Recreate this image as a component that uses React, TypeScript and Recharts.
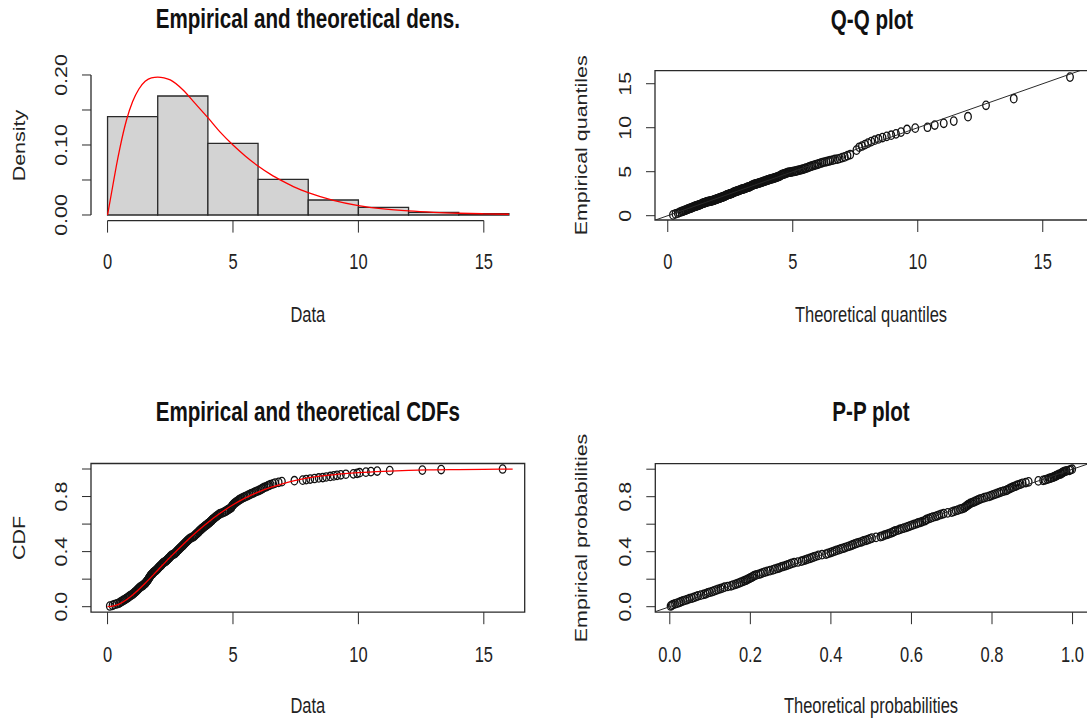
import React from "react";
import {
    ComposedChart, Line, Scatter, XAxis, YAxis, ReferenceArea, ReferenceLine,
} from "recharts";

// ---------- Style ----------

const FONT = "'Liberation Sans', Arial, sans-serif";
const INK = "#222";
const FRAME = "#2a2a2a";
const STRETCH = 1.3; // the picture is stretched vertically, text too

// ---------- Data ----------

// histogram (density scale)
const HIST_BREAKS = [0, 2, 4, 6, 8, 10, 12, 14, 16];
const HIST_DENSITY = [0.1404, 0.17, 0.1024, 0.051, 0.0214, 0.011, 0.0038, 0.002];

// fitted density curve
const DENS_X = [0, 0.1, 0.2, 0.35, 0.5, 0.75, 1, 1.25, 1.5, 1.75, 2, 2.25, 2.5, 3, 3.5, 4, 4.5, 5, 5.5, 6, 6.5, 7, 7.5, 8, 9, 10, 11, 12, 13, 14, 15, 16];
const DENS_Y = [0, 0.02, 0.04, 0.07, 0.097, 0.135, 0.162, 0.18, 0.191, 0.196, 0.197, 0.196, 0.193, 0.179, 0.159, 0.139, 0.118, 0.1, 0.084, 0.07, 0.058, 0.048, 0.039, 0.032, 0.021, 0.0135, 0.0088, 0.0058, 0.0038, 0.0025, 0.0017, 0.0011];

// fitted CDF curve
const CDF_X = [0, 0.25, 0.5, 0.75, 1, 1.5, 2, 2.5, 3, 3.5, 4, 4.5, 5, 5.5, 6, 6.5, 7, 7.5, 8, 9, 10, 11, 12, 13, 14, 15, 16.15];
const CDF_Y = [0, 0.006, 0.022, 0.05, 0.085, 0.17, 0.265, 0.36, 0.45, 0.535, 0.612, 0.68, 0.74, 0.79, 0.832, 0.866, 0.894, 0.917, 0.935, 0.958, 0.973, 0.983, 0.99, 0.994, 0.996, 0.998, 0.999];

// sample, first half of the dense part plus the sparse upper tail
const SAMPLE = [
    0.09, 0.28, 0.46, 0.55, 0.64, 0.74, 0.82, 0.89, 0.99, 1.06,
    1.12, 1.18, 1.24, 1.3, 1.39, 1.46, 1.52, 1.56, 1.61, 1.64,
    1.68, 1.71, 1.77, 1.82, 1.88, 1.95, 2.01, 2.06, 2.12, 2.17,
    2.23, 2.33, 2.38, 2.44, 2.49, 2.55, 2.66, 2.72, 2.77, 2.83,
    2.89, 2.95, 3.01, 3.06, 3.12, 3.18, 3.24, 3.31, 3.43, 3.49,
    3.55, 3.62, 3.66, 3.73, 3.8, 3.87, 3.94, 4.01, 4.08, 4.15,
    4.19, 4.27, 4.34, 4.42, 4.5, 4.66, 4.75, 4.84, 4.93, 4.96,
    5.0, 5.06, 5.14, 5.22, 5.3, 5.41, 5.54, 5.66, 5.78, 5.9,
    6.04, 6.15, 6.25, 6.39, 6.5, 6.68, 6.95,
    7.45, 7.78, 7.92, 8.08, 8.25, 8.42, 8.58, 8.72, 8.88, 9.02,
    9.15, 9.3, 9.5, 9.8, 9.95, 10.05, 10.3, 10.5, 10.75, 11.25,
    12.55, 13.3, 15.75,
];
const EMP_PROB = [
    0.005, 0.016, 0.026, 0.037, 0.047, 0.058, 0.068, 0.079, 0.089, 0.1,
    0.11, 0.121, 0.131, 0.142, 0.152, 0.163, 0.173, 0.184, 0.194, 0.205,
    0.215, 0.226, 0.236, 0.247, 0.257, 0.268, 0.278, 0.289, 0.299, 0.31,
    0.32, 0.331, 0.341, 0.352, 0.362, 0.373, 0.383, 0.394, 0.404, 0.415,
    0.425, 0.436, 0.446, 0.457, 0.467, 0.478, 0.488, 0.499, 0.509, 0.52,
    0.53, 0.541, 0.551, 0.562, 0.572, 0.583, 0.593, 0.604, 0.614, 0.625,
    0.635, 0.646, 0.656, 0.667, 0.677, 0.688, 0.698, 0.709, 0.719, 0.73,
    0.74, 0.751, 0.761, 0.772, 0.782, 0.793, 0.803, 0.814, 0.824, 0.835,
    0.845, 0.856, 0.866, 0.877, 0.887, 0.898, 0.908,
    0.915, 0.919, 0.923, 0.927, 0.931, 0.935, 0.938, 0.942, 0.946, 0.95,
    0.954, 0.958, 0.962, 0.965, 0.969, 0.973, 0.977, 0.981, 0.985, 0.988,
    0.992, 0.996, 1.0,
];
const THEO_QUANT = [
    0.21, 0.4, 0.54, 0.63, 0.72, 0.8, 0.88, 0.95, 1.02, 1.09,
    1.15, 1.21, 1.27, 1.33, 1.39, 1.46, 1.52, 1.57, 1.63, 1.68,
    1.74, 1.79, 1.85, 1.9, 1.96, 2.01, 2.07, 2.12, 2.18, 2.23,
    2.29, 2.35, 2.4, 2.46, 2.51, 2.57, 2.63, 2.69, 2.74, 2.8,
    2.86, 2.92, 2.98, 3.04, 3.1, 3.16, 3.22, 3.29, 3.35, 3.41,
    3.47, 3.54, 3.6, 3.67, 3.74, 3.81, 3.88, 3.95, 4.02, 4.09,
    4.17, 4.25, 4.32, 4.4, 4.48, 4.56, 4.65, 4.74, 4.83, 4.91,
    5.0, 5.11, 5.21, 5.32, 5.42, 5.53, 5.66, 5.78, 5.91, 6.04,
    6.19, 6.35, 6.5, 6.69, 6.88, 7.08, 7.3,
    7.55, 7.66, 7.77, 7.89, 8.01, 8.14, 8.28, 8.43, 8.59, 8.76,
    8.94, 9.13, 9.33, 9.57, 9.9, 10.39, 10.68, 11.04, 11.44, 12.01,
    12.73, 13.84, 16.09,
];
const THEO_PROB = [
    0.002, 0.008, 0.019, 0.028, 0.038, 0.049, 0.06, 0.07, 0.084, 0.094,
    0.105, 0.115, 0.126, 0.136, 0.152, 0.163, 0.173, 0.182, 0.19, 0.197,
    0.204, 0.21, 0.221, 0.231, 0.242, 0.256, 0.267, 0.277, 0.288, 0.298,
    0.309, 0.327, 0.337, 0.348, 0.358, 0.369, 0.388, 0.399, 0.409, 0.42,
    0.43, 0.441, 0.451, 0.46, 0.47, 0.481, 0.492, 0.502, 0.523, 0.533,
    0.543, 0.553, 0.56, 0.571, 0.581, 0.592, 0.602, 0.613, 0.622, 0.633,
    0.638, 0.648, 0.659, 0.669, 0.68, 0.7, 0.71, 0.721, 0.731, 0.736,
    0.74, 0.746, 0.754, 0.762, 0.77, 0.781, 0.793, 0.803, 0.813, 0.823,
    0.835, 0.842, 0.849, 0.858, 0.866, 0.876, 0.891,
    0.915, 0.927, 0.932, 0.937, 0.941, 0.945, 0.948, 0.952, 0.955, 0.958,
    0.96, 0.963, 0.966, 0.97, 0.972, 0.974, 0.976, 0.978, 0.981, 0.985,
    0.992, 0.995, 0.999,
];

// sample, second half of the dense part
const SAMPLE_2 = [
    0.2, 0.37, 0.5, 0.6, 0.69, 0.78, 0.86, 0.95, 1.03, 1.09,
    1.15, 1.21, 1.27, 1.35, 1.42, 1.49, 1.54, 1.59, 1.62, 1.66,
    1.7, 1.74, 1.8, 1.85, 1.92, 1.98, 2.03, 2.09, 2.15, 2.2,
    2.28, 2.36, 2.41, 2.47, 2.52, 2.6, 2.69, 2.75, 2.8, 2.86,
    2.92, 2.98, 3.03, 3.09, 3.15, 3.21, 3.27, 3.37, 3.46, 3.52,
    3.58, 3.64, 3.7, 3.76, 3.83, 3.9, 3.97, 4.05, 4.11, 4.17,
    4.23, 4.3, 4.38, 4.46, 4.58, 4.7, 4.79, 4.89, 4.94, 4.98,
    5.03, 5.1, 5.18, 5.26, 5.35, 5.47, 5.6, 5.72, 5.84, 5.97,
    6.1, 6.2, 6.32, 6.44, 6.6, 6.82,
];
const EMP_PROB_2 = [
    0.01, 0.021, 0.031, 0.042, 0.052, 0.063, 0.073, 0.084, 0.094, 0.105,
    0.115, 0.126, 0.136, 0.147, 0.157, 0.168, 0.178, 0.189, 0.199, 0.21,
    0.22, 0.231, 0.241, 0.252, 0.262, 0.273, 0.283, 0.294, 0.304, 0.315,
    0.325, 0.336, 0.346, 0.357, 0.367, 0.378, 0.388, 0.399, 0.409, 0.42,
    0.43, 0.441, 0.451, 0.462, 0.472, 0.483, 0.493, 0.504, 0.514, 0.525,
    0.535, 0.546, 0.556, 0.567, 0.577, 0.588, 0.598, 0.609, 0.619, 0.63,
    0.64, 0.651, 0.661, 0.672, 0.682, 0.693, 0.703, 0.714, 0.724, 0.735,
    0.745, 0.756, 0.766, 0.777, 0.787, 0.798, 0.808, 0.819, 0.829, 0.84,
    0.85, 0.861, 0.871, 0.882, 0.892, 0.903,
];
const THEO_QUANT_2 = [
    0.31, 0.47, 0.59, 0.68, 0.76, 0.84, 0.92, 0.99, 1.06, 1.12,
    1.18, 1.24, 1.3, 1.36, 1.43, 1.49, 1.55, 1.6, 1.66, 1.71,
    1.77, 1.82, 1.88, 1.93, 1.99, 2.04, 2.1, 2.15, 2.21, 2.26,
    2.32, 2.38, 2.43, 2.49, 2.54, 2.6, 2.66, 2.72, 2.77, 2.83,
    2.89, 2.95, 3.01, 3.07, 3.13, 3.19, 3.26, 3.32, 3.38, 3.44,
    3.51, 3.57, 3.64, 3.71, 3.78, 3.85, 3.92, 3.99, 4.06, 4.13,
    4.21, 4.29, 4.36, 4.44, 4.52, 4.61, 4.7, 4.79, 4.87, 4.96,
    5.06, 5.16, 5.27, 5.37, 5.48, 5.6, 5.72, 5.85, 5.98, 6.12,
    6.27, 6.43, 6.6, 6.79, 6.98, 7.19,
];
const THEO_PROB_2 = [
    0.005, 0.013, 0.024, 0.033, 0.043, 0.055, 0.065, 0.077, 0.089, 0.099,
    0.11, 0.12, 0.131, 0.144, 0.157, 0.168, 0.177, 0.186, 0.193, 0.2,
    0.207, 0.215, 0.226, 0.236, 0.249, 0.261, 0.272, 0.282, 0.293, 0.303,
    0.318, 0.332, 0.342, 0.353, 0.363, 0.378, 0.393, 0.404, 0.414, 0.425,
    0.435, 0.446, 0.455, 0.465, 0.476, 0.487, 0.497, 0.512, 0.528, 0.538,
    0.548, 0.556, 0.566, 0.576, 0.587, 0.597, 0.607, 0.617, 0.627, 0.635,
    0.643, 0.653, 0.664, 0.674, 0.69, 0.705, 0.715, 0.726, 0.733, 0.738,
    0.743, 0.75, 0.758, 0.766, 0.775, 0.787, 0.798, 0.808, 0.818, 0.829,
    0.838, 0.845, 0.853, 0.862, 0.871, 0.884,
];

// reference line y = x
const QQ_DIAG = [-0.6, 17];
const PP_DIAG = [-0.05, 1.06];

// ticks
const DATA_TICKS = [0, 5, 10, 15];
const DENS_TICKS = [0, 0.05, 0.1, 0.15, 0.2];
const DENS_LABELED = [0, 0.1, 0.2];
const PROB_TICKS = [0, 0.2, 0.4, 0.6, 0.8, 1];
const PROB_LABELED = [0, 0.4, 0.8];

// ---------- Series ----------

const pairs = (xs: number[], ys: number[]) => xs.map((x, i) => ({ x, y: ys[i] }));

const histBins = HIST_DENSITY.map((d, i) => ({ x1: HIST_BREAKS[i], x2: HIST_BREAKS[i + 1], d }));
const densLine = pairs(DENS_X, DENS_Y);
const cdfLine = pairs(CDF_X, CDF_Y);
const cdfPoints = [...pairs(SAMPLE, EMP_PROB), ...pairs(SAMPLE_2, EMP_PROB_2)];
const qqPoints = [...pairs(THEO_QUANT, SAMPLE), ...pairs(THEO_QUANT_2, SAMPLE_2)];
const ppPoints = [...pairs(THEO_PROB, EMP_PROB), ...pairs(THEO_PROB_2, EMP_PROB_2)];
const qqDiag = pairs(QQ_DIAG, QQ_DIAG);
const ppDiag = pairs(PP_DIAG, PP_DIAG);

// ---------- Layout ----------

const CHART_W = 1100;
const CHART_H = 719;
const Y_AXIS_W = 60;
const X_AXIS_H = 60;
const TOP_LAYER = 2000; // lines above the circles

type Panel = {
    px0: number; px1: number; py0: number; py1: number;
    xDomain: [number, number]; yDomain: [number, number];
};

const DENS: Panel = { px0: 91, px1: 524.7, py0: 70.5, py1: 220.6, xDomain: [-0.66, 16.63], yDomain: [-0.008, 0.2064] };
const CDF: Panel = { px0: 91, px1: 524.7, py0: 463.5, py1: 612.2, xDomain: [-0.66, 16.63], yDomain: [-0.04, 1.04] };
const QQ: Panel = { px0: 655, px1: 1090, py0: 70.7, py1: 220, xDomain: [-0.51, 16.89], yDomain: [-0.49, 16.48] };
const PP: Panel = { px0: 655.3, px1: 1092.7, py0: 463.7, py1: 612.2, xDomain: [-0.036, 1.05], yDomain: [-0.04, 1.04] };

const marginOf = (p: Panel) => ({
    top: p.py0,
    left: p.px0 - Y_AXIS_W,
    right: CHART_W - p.px1,
    bottom: CHART_H - p.py1 - X_AXIS_H,
});

// ---------- Ticks ----------

const fix = (n: number) => (v: number) => v.toFixed(n);
const plain = (v: number) => String(v);

const xTick = (baseline: number, fmt: (v: number) => string) => (props: any) => (
    <text
        transform={`translate(${props.x},${baseline}) scale(1,${STRETCH})`}
        textAnchor="middle"
        fontFamily={FONT}
        fontSize={16.5}
        fill={INK}
    >
        {fmt(props.payload.value)}
    </text>
);

const yTick = (baselineX: number, labeled: number[] | null, fmt: (v: number) => string) => (props: any) => {
    const v = props.payload.value;
    if (labeled && !labeled.some((l) => Math.abs(l - v) < 1e-9)) return <g />;
    return (
        <text
            transform={`translate(${baselineX},${props.y}) rotate(-90) scale(${STRETCH},1)`}
            textAnchor="middle"
            fontFamily={FONT}
            fontSize={16.5}
            fill={INK}
        >
            {fmt(v)}
        </text>
    );
};

const circle = (props: any) => (
    <ellipse cx={props.cx} cy={props.cy} rx={3.3} ry={4.2} fill="none" stroke="#111" strokeWidth={1.3} />
);

// ---------- Text overlay ----------

function Title({ x, y, children }: { x: number; y: number; children: string }) {
    return (
        <text transform={`translate(${x},${y}) scale(1,${STRETCH})`} textAnchor="middle"
            fontFamily={FONT} fontSize={20.6} fontWeight="bold" fill="#111">
            {children}
        </text>
    );
}

function XTitle({ x, y, children }: { x: number; y: number; children: string }) {
    return (
        <text transform={`translate(${x},${y}) scale(1,${STRETCH})`} textAnchor="middle"
            fontFamily={FONT} fontSize={16.5} fill={INK}>
            {children}
        </text>
    );
}

function YTitle({ x, y, children }: { x: number; y: number; children: string }) {
    return (
        <text transform={`translate(${x},${y}) rotate(-90) scale(${STRETCH},1)`} textAnchor="middle"
            fontFamily={FONT} fontSize={16.5} fill={INK}>
            {children}
        </text>
    );
}

const layer: React.CSSProperties = { position: "absolute", left: 0, top: 0 };

// ---------- App ----------

export default function App() {
    const cx = (p: Panel) => (p.px0 + p.px1) / 2;
    const cy = (p: Panel) => (p.py0 + p.py1) / 2;

    return (
        <div style={{ position: "fixed", left: 0, top: 0, width: 1087, height: 719, overflow: "hidden", background: "#fff" }}>
            {/* Empirical and theoretical densities */}
            <div style={layer}>
                <ComposedChart width={CHART_W} height={CHART_H} margin={marginOf(DENS)}>
                    <XAxis type="number" dataKey="x" domain={DENS.xDomain} allowDataOverflow ticks={DATA_TICKS}
                        interval={0} height={X_AXIS_H} tickSize={12} axisLine={false} stroke={FRAME}
                        tick={xTick(269.3, plain)} />
                    <YAxis type="number" dataKey="y" domain={DENS.yDomain} allowDataOverflow ticks={DENS_TICKS}
                        interval={0} width={Y_AXIS_W} tickSize={9} axisLine={false} stroke={FRAME}
                        tick={yTick(66.7, DENS_LABELED, fix(2))} />
                    {histBins.map((b) => (
                        <ReferenceArea key={b.x1} x1={b.x1} x2={b.x2} y1={0} y2={b.d} ifOverflow="visible"
                            fill="#d3d3d3" fillOpacity={1} stroke={FRAME} strokeWidth={1.3} />
                    ))}
                    <ReferenceLine segment={[{ x: 0, y: DENS.yDomain[0] }, { x: 15, y: DENS.yDomain[0] }]}
                        ifOverflow="visible" stroke={FRAME} strokeWidth={1.3} />
                    <ReferenceLine segment={[{ x: DENS.xDomain[0], y: 0 }, { x: DENS.xDomain[0], y: 0.2 }]}
                        ifOverflow="visible" stroke={FRAME} strokeWidth={1.3} />
                    <Line data={densLine} dataKey="y" type="monotone" stroke="#ff0000" strokeWidth={1.3}
                        dot={false} isAnimationActive={false} zIndex={TOP_LAYER} />
                </ComposedChart>
            </div>

            {/* Q-Q plot */}
            <div style={layer}>
                <ComposedChart width={CHART_W} height={CHART_H} margin={marginOf(QQ)}>
                    <XAxis type="number" dataKey="x" domain={QQ.xDomain} allowDataOverflow ticks={DATA_TICKS}
                        interval={0} height={X_AXIS_H} tickSize={12} axisLine={false} stroke={FRAME}
                        tick={xTick(269.3, plain)} />
                    <YAxis type="number" dataKey="y" domain={QQ.yDomain} allowDataOverflow ticks={DATA_TICKS}
                        interval={0} width={Y_AXIS_W} tickSize={9} axisLine={false} stroke={FRAME}
                        tick={yTick(631.4, null, plain)} />
                    <ReferenceArea x1={QQ.xDomain[0]} x2={QQ.xDomain[1]} y1={QQ.yDomain[0]} y2={QQ.yDomain[1]}
                        ifOverflow="visible" fill="none" stroke={FRAME} strokeWidth={1.3} />
                    <Scatter data={qqPoints} dataKey="y" shape={circle} isAnimationActive={false} />
                    <Line data={qqDiag} dataKey="y" type="linear" stroke={FRAME} strokeWidth={1}
                        dot={false} isAnimationActive={false} zIndex={TOP_LAYER} />
                </ComposedChart>
            </div>

            {/* Empirical and theoretical CDFs */}
            <div style={layer}>
                <ComposedChart width={CHART_W} height={CHART_H} margin={marginOf(CDF)}>
                    <XAxis type="number" dataKey="x" domain={CDF.xDomain} allowDataOverflow ticks={DATA_TICKS}
                        interval={0} height={X_AXIS_H} tickSize={12} axisLine={false} stroke={FRAME}
                        tick={xTick(661.7, plain)} />
                    <YAxis type="number" dataKey="y" domain={CDF.yDomain} allowDataOverflow ticks={PROB_TICKS}
                        interval={0} width={Y_AXIS_W} tickSize={9} axisLine={false} stroke={FRAME}
                        tick={yTick(66.7, PROB_LABELED, fix(1))} />
                    <ReferenceArea x1={CDF.xDomain[0]} x2={CDF.xDomain[1]} y1={CDF.yDomain[0]} y2={CDF.yDomain[1]}
                        ifOverflow="visible" fill="none" stroke={FRAME} strokeWidth={1.3} />
                    <Scatter data={cdfPoints} dataKey="y" shape={circle} isAnimationActive={false} />
                    <Line data={cdfLine} dataKey="y" type="monotone" stroke="#ff0000" strokeWidth={1.3}
                        dot={false} isAnimationActive={false} zIndex={TOP_LAYER} />
                </ComposedChart>
            </div>

            {/* P-P plot */}
            <div style={layer}>
                <ComposedChart width={CHART_W} height={CHART_H} margin={marginOf(PP)}>
                    <XAxis type="number" dataKey="x" domain={PP.xDomain} allowDataOverflow ticks={PROB_TICKS}
                        interval={0} height={X_AXIS_H} tickSize={12} axisLine={false} stroke={FRAME}
                        tick={xTick(661.7, fix(1))} />
                    <YAxis type="number" dataKey="y" domain={PP.yDomain} allowDataOverflow ticks={PROB_TICKS}
                        interval={0} width={Y_AXIS_W} tickSize={9} axisLine={false} stroke={FRAME}
                        tick={yTick(631.4, PROB_LABELED, fix(1))} />
                    <ReferenceArea x1={PP.xDomain[0]} x2={PP.xDomain[1]} y1={PP.yDomain[0]} y2={PP.yDomain[1]}
                        ifOverflow="visible" fill="none" stroke={FRAME} strokeWidth={1.3} />
                    <Scatter data={ppPoints} dataKey="y" shape={circle} isAnimationActive={false} />
                    <Line data={ppDiag} dataKey="y" type="linear" stroke={FRAME} strokeWidth={1}
                        dot={false} isAnimationActive={false} zIndex={TOP_LAYER} />
                </ComposedChart>
            </div>

            {/* titles */}
            <svg width={1087} height={719} style={{ ...layer, pointerEvents: "none" }}>
                <Title x={cx(DENS)} y={28.3}>Empirical and theoretical dens.</Title>
                <Title x={872} y={28.8}>Q-Q plot</Title>
                <Title x={cx(CDF)} y={420.7}>Empirical and theoretical CDFs</Title>
                <Title x={871} y={420.7}>P-P plot</Title>
                <XTitle x={cx(DENS)} y={321.7}>Data</XTitle>
                <XTitle x={871} y={321.7}>Theoretical quantiles</XTitle>
                <XTitle x={cx(CDF)} y={713.3}>Data</XTitle>
                <XTitle x={871} y={713.3}>Theoretical probabilities</XTitle>
                <YTitle x={25} y={cy(DENS)}>Density</YTitle>
                <YTitle x={25} y={cy(CDF)}>CDF</YTitle>
                <YTitle x={587} y={cy(QQ)}>Empirical quantiles</YTitle>
                <YTitle x={587} y={cy(PP)}>Empirical probabilities</YTitle>
            </svg>
        </div>
    );
}
